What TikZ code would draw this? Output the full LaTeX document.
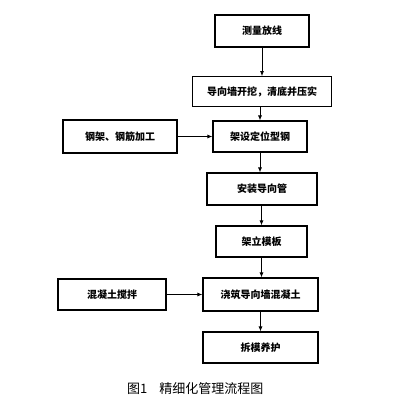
\documentclass[tikz,border=0pt]{standalone}
\usepackage{fontspec}
\setmainfont{Noto Sans CJK SC}
\usetikzlibrary{arrows.meta}
\begin{document}
\begin{tikzpicture}[x=1pt,y=-1pt,
  stepbox/.style={draw,line width=1.1pt,inner sep=0pt,font=\fontsize{10}{12}\selectfont\bfseries},
  flow/.style={line width=0.8pt,-{Latex[length=5pt,width=4pt]}}]
\useasboundingbox (0,0) rectangle (412,407);
\node[stepbox,minimum width=94pt,minimum height=32pt] (s1) at (262,31) {测量放线};
\node[stepbox,line width=0.8pt,minimum width=139pt,minimum height=30pt] (s2) at (262,91.5) {导向墙开挖，清底并压实};
\node[stepbox,minimum width=94pt,minimum height=31pt] (s3) at (260,136.5) {架设定位型钢};
\node[stepbox,minimum width=114pt,minimum height=33pt] (g1) at (120,136.5) {钢架、钢筋加工};
\node[stepbox,minimum width=110pt,minimum height=32pt] (s4) at (262,189) {安装导向管};
\node[stepbox,minimum width=91pt,minimum height=31pt] (s5) at (261.5,241.5) {架立模板};
\node[stepbox,minimum width=115pt,minimum height=33pt] (s6) at (260.5,294.5) {浇筑导向墙混凝土};
\node[stepbox,minimum width=108pt,minimum height=31pt] (g2) at (112,294.5) {混凝土搅拌};
\node[stepbox,minimum width=115pt,minimum height=31pt] (s7) at (260.5,347.5) {拆模养护};
\node[font=\fontsize{13}{15}\selectfont,anchor=west,inner sep=0pt] (cap) at (127,389) {图1\hspace{12pt}精细化管理流程图};
% main flow
\draw[flow] (s1) -- (s2);
\draw[flow] (s2.south -| s3) -- (s3);
\draw[flow] (s3) -- (s4.north -| s3);
\draw[flow] (s4.south -| s5) -- (s5);
\draw[flow] (s5) -- (s6.north -| s5);
\draw[flow] (s6) -- (s7);
% side inputs
\draw[flow] (g1) -- (s3);
\draw[flow] (g2) -- (s6);
\end{tikzpicture}
\end{document}
